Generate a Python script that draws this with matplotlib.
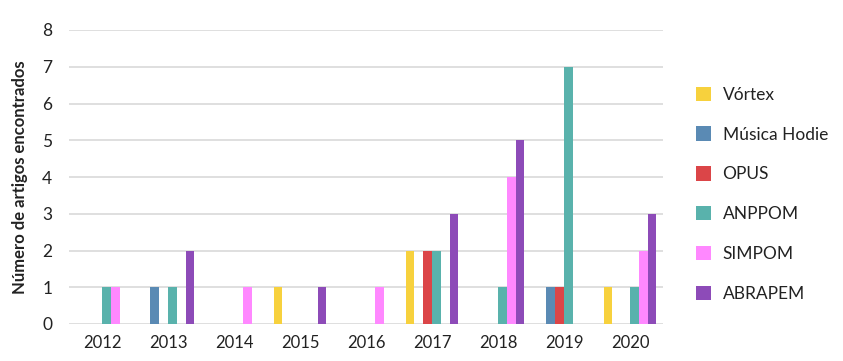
import matplotlib
matplotlib.use("Agg")
import matplotlib.pyplot as plt
from matplotlib.patches import Patch
import numpy as np

years = ["2012", "2013", "2014", "2015", "2016", "2017", "2018", "2019", "2020"]
series = ["Vórtex", "Música Hodie", "OPUS", "ANPPOM", "SIMPOM", "ABRAPEM"]
vortex = [0, 0, 0, 1, 0, 2, 0, 0, 1]
musica_hodie = [0, 1, 0, 0, 0, 0, 0, 1, 0]
opus = [0, 0, 0, 0, 0, 2, 0, 1, 0]
anppom = [1, 1, 0, 0, 0, 2, 1, 7, 1]
simpom = [1, 0, 1, 0, 1, 0, 4, 0, 2]
abrapem = [0, 2, 0, 1, 0, 3, 5, 0, 3]
values = [vortex, musica_hodie, opus, anppom, simpom, abrapem]
colors = ["#F7D13D", "#5A8AB4", "#DB4548", "#59B2AC", "#FF88FF", "#8D4BB8"]
yticks = [0, 1, 2, 3, 4, 5, 6, 7, 8]

plt.rcParams['font.family'] = ['Lato', 'DejaVu Sans']
text_color = "#222222"

fig = plt.figure(figsize=(8.43, 3.61), dpi=100)
ax = fig.add_axes([69/843, 1-324/361, (663-69)/843, (324-30)/361])

x = np.arange(len(years))
n = len(series)
w = 0.8 / n
for i, (name, vals, c) in enumerate(zip(series, values, colors)):
    ax.bar(x - 0.4 + w*(i+0.5), vals, width=w, color=c, zorder=3, linewidth=0)

ax.set_xlim(-0.5, len(years)-0.5)
ax.set_ylim(0, 8)
ax.set_yticks(yticks)
ax.set_xticks(x)
ax.set_xticklabels(years)
ax.yaxis.grid(True, color="#d9d9d9", linewidth=1.2, zorder=0)
ax.xaxis.grid(False)
for s in ax.spines.values():
    s.set_visible(False)
ax.tick_params(axis='x', length=0, labelsize=12, colors=text_color, pad=8)
ax.tick_params(axis='y', length=0, labelsize=12.5, colors=text_color, pad=12)
ax.set_ylabel("Número de artigos encontrados", fontsize=12, fontweight='bold',
              color=text_color, labelpad=10)

handles = [Patch(facecolor=c, edgecolor='none') for c in colors]
fig.legend(handles, series, loc='upper left', bbox_to_anchor=(680/843, 1-71/361),
           frameon=False, fontsize=12.5, handlelength=0.9, handleheight=0.9,
           labelspacing=1.36, handletextpad=0.65, labelcolor=text_color)

fig.savefig("out.png", dpi=100)
